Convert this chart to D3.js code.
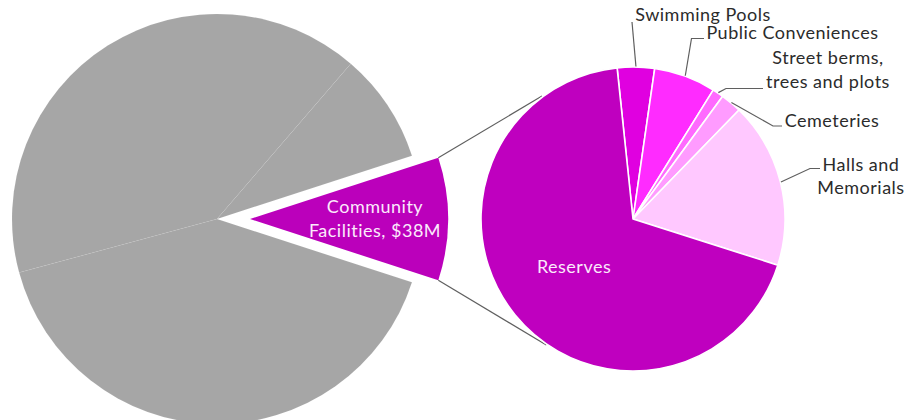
<!DOCTYPE html>
<html>
<head>
<meta charset="utf-8">
<script src="https://cdn.jsdelivr.net/npm/d3@7/dist/d3.min.js"></script>
<style>
  html, body { margin: 0; padding: 0; background: #fff; }
  svg { display: block; }
  text { font-family: Lato, "Open Sans", sans-serif; letter-spacing: 0.5px; }
</style>
</head>
<body>
<svg id="chart" width="908" height="420"></svg>
<script>
// Spending split ($M): community facilities against the rest of the budget
const mainCategories = ["Other activities 1", "Other activities 2", "Other activities 3", "Community Facilities"];
const mainValues = [155, 154, 33, 38];
const mainLabel = ["Community", "Facilities, $38M"];

// Breakdown of Community Facilities ($M)
const subCategories = ["Swimming Pools", "Public Conveniences", "Street berms, trees and plots", "Cemeteries", "Halls and Memorials", "Reserves"];
const subValues = [1.5, 2.5, 0.45, 0.85, 6.7, 26.0];
const subLabelLines = [
  ["Swimming Pools"],
  ["Public Conveniences"],
  ["Street berms,", "trees and plots"],
  ["Cemeteries"],
  ["Halls and", "Memorials"],
  ["Reserves"]
];
const subColors = ["#E000E0", "#FF2BFF", "#FF6AFF", "#FF9BFF", "#FFC8FF", "#BF00BF"];

const svg = d3.select("#chart");
const deg = Math.PI / 180;
const fontSize = 18;
const lineGap = 23.5;

// ---- main pie ----
const mainCx = 217, mainCy = 219, mainR = 205;
const explodeR = 198, explodeOffset = 33;
const mainPie = d3.pie().sort(null).value(d => d.value)
  .startAngle(108 * deg).endAngle(108 * deg + 2 * Math.PI);
const mainData = mainPie(mainCategories.map((c, i) => ({ name: c, value: mainValues[i] })));
const highlightIdx = mainCategories.indexOf("Community Facilities");

const mainG = svg.append("g").attr("transform", `translate(${mainCx},${mainCy})`);
const greyArc = d3.arc().innerRadius(0).outerRadius(mainR);
mainG.selectAll("path.grey")
  .data(mainData.filter((d, i) => i !== highlightIdx))
  .join("path")
  .attr("class", "grey")
  .attr("d", greyArc)
  .attr("fill", "#A6A6A6")
  .attr("stroke", "rgba(255,255,255,0.06)")
  .attr("stroke-width", 1);

const hl = mainData[highlightIdx];
const hlMid = (hl.startAngle + hl.endAngle) / 2;
const hlDx = Math.sin(hlMid) * explodeOffset, hlDy = -Math.cos(hlMid) * explodeOffset;
const hlG = mainG.append("g").attr("transform", `translate(${hlDx},${hlDy})`);
const hlArc = d3.arc().innerRadius(0).outerRadius(explodeR);
hlG.append("path").attr("d", hlArc(hl)).attr("fill", "#BB00BB");
const hlLabelArc = d3.arc().innerRadius(250).outerRadius(0);
const hlC = hlLabelArc.centroid(hl);
const hlText = hlG.append("text")
  .attr("text-anchor", "middle")
  .attr("font-size", fontSize)
  .attr("fill", "#FBEAFB");
mainLabel.forEach((line, i) => {
  hlText.append("tspan").attr("x", hlC[0])
    .attr("y", hlC[1] + (i - (mainLabel.length - 1) / 2) * lineGap + fontSize * 0.33)
    .text(line);
});

// ---- secondary pie ----
const subCx = 633, subCy = 219, subR = 152;
const subPie = d3.pie().sort(null).value(d => d.value)
  .startAngle(-6 * deg).endAngle(-6 * deg + 2 * Math.PI);
const subData = subPie(subCategories.map((c, i) => ({ name: c, value: subValues[i] })));
const subArc = d3.arc().innerRadius(0).outerRadius(subR);
const polar = (cx, cy, r, a) => [cx + r * Math.sin(a), cy - r * Math.cos(a)];

// connector lines between the exploded slice and the breakdown pie
const c1 = polar(mainCx + hlDx, mainCy + hlDy, explodeR, hl.startAngle);
const c2 = polar(mainCx + hlDx, mainCy + hlDy, explodeR, hl.endAngle);
const t1 = polar(subCx, subCy, subR + 1, -36.5 * deg);
const t2 = polar(subCx, subCy, subR + 1, 214.5 * deg);
svg.append("g").attr("stroke", "#5f5f5f").attr("stroke-width", 1.2).attr("fill", "none")
  .selectAll("line").data([[c1, t1], [c2, t2]]).join("line")
  .attr("x1", d => d[0][0]).attr("y1", d => d[0][1])
  .attr("x2", d => d[1][0]).attr("y2", d => d[1][1]);

const subG = svg.append("g").attr("transform", `translate(${subCx},${subCy})`);
subG.selectAll("path")
  .data(subData)
  .join("path")
  .attr("d", subArc)
  .attr("fill", (d, i) => subColors[i])
  .attr("stroke", "#fff")
  .attr("stroke-width", 1.6)
  .attr("stroke-linejoin", "round");

// Reserves label sits inside its slice
const resIdx = subCategories.indexOf("Reserves");
const resC = subArc.centroid(subData[resIdx]);
subG.append("text")
  .attr("x", resC[0]).attr("y", resC[1] + fontSize * 0.33)
  .attr("text-anchor", "middle").attr("font-size", fontSize)
  .attr("fill", "#FBEAFB")
  .text(subLabelLines[resIdx][0]);

// outside labels with leader lines (elbow, end of leader, text centre, first baseline)
const outside = [
  { i: 0, elbow: [632, 22], end: [632, 22], tx: 703, ty: 21 },
  { i: 1, elbow: [691.5, 38.5], end: [704, 38.5], tx: 792.5, ty: 39 },
  { i: 2, elbow: [726, 88.5], end: [763, 88.5], tx: 828, ty: 64 },
  { i: 3, elbow: [773, 126], end: [782, 126], tx: 832, ty: 127 },
  { i: 4, elbow: [810, 168.5], end: [820, 168.5], tx: 861, ty: 170.5 }
];
const leaderG = svg.append("g").attr("fill", "none").attr("stroke", "#5f5f5f").attr("stroke-width", 1.2);
const labelG = svg.append("g").attr("font-size", fontSize).attr("fill", "#2b2b2b").attr("text-anchor", "middle");
outside.forEach(o => {
  const d = subData[o.i];
  const mid = (d.startAngle + d.endAngle) / 2;
  const p0 = polar(subCx, subCy, subR + 0.5, mid);
  leaderG.append("path").attr("d", d3.line()([p0, o.elbow, o.end]));
  const t = labelG.append("text");
  subLabelLines[o.i].forEach((line, k) => {
    t.append("tspan").attr("x", o.tx).attr("y", o.ty + k * lineGap).text(line);
  });
});
</script>
</body>
</html>
